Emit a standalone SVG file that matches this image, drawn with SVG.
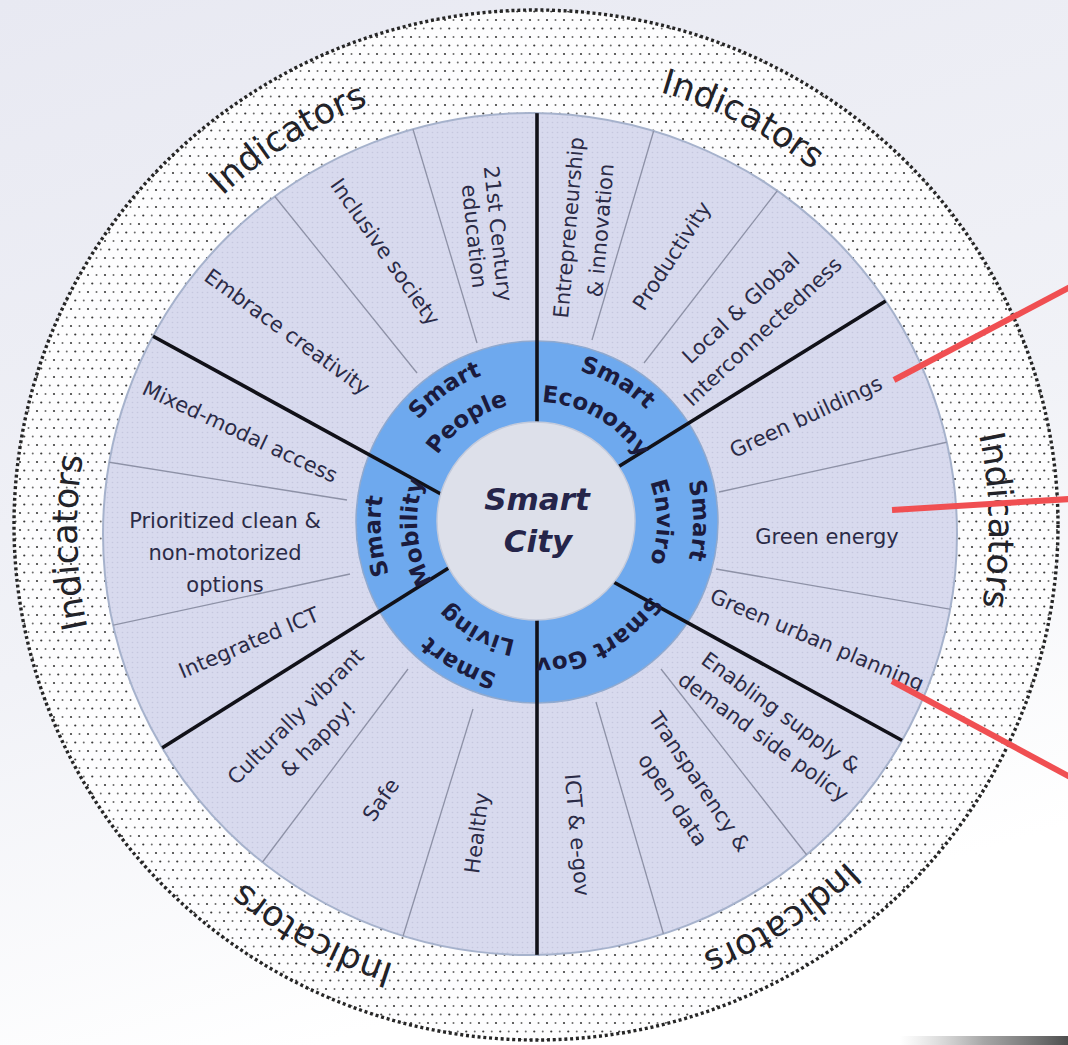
<svg xmlns="http://www.w3.org/2000/svg" width="1068" height="1045" viewBox="0 0 1068 1045">
  <defs>
    <linearGradient id="bg" x1="0" y1="0" x2="0.3" y2="1">
      <stop offset="0" stop-color="#e8e9f2"/>
      <stop offset="0.6" stop-color="#f1f2f7"/>
      <stop offset="1" stop-color="#ffffff"/>
    </linearGradient>
    <linearGradient id="shadow" x1="0" y1="0" x2="1" y2="0">
      <stop offset="0" stop-color="#9a9a9a" stop-opacity="0"/>
      <stop offset="0.5" stop-color="#6a6a6a" stop-opacity="0.6"/>
      <stop offset="1" stop-color="#3a3a3a" stop-opacity="0.9"/>
    </linearGradient>
    <pattern id="dots" width="17" height="17" patternUnits="userSpaceOnUse">
      <rect width="17" height="17" fill="#fdfdfe"/>
      <circle cx="3" cy="3" r="1.1" fill="#3c3c3c"/>
      <circle cx="11.5" cy="3" r="1" fill="#6a6a6a"/>
      <circle cx="7.25" cy="11.5" r="1.1" fill="#3c3c3c"/>
      <circle cx="15.75" cy="11.5" r="1" fill="#6a6a6a"/>
    </pattern>
    <pattern id="fine" width="5" height="5" patternUnits="userSpaceOnUse">
      <rect width="5" height="5" fill="#d8daee"/>
      <circle cx="2.5" cy="2.5" r="0.8" fill="#c5c7df"/>
    </pattern>
    <clipPath id="lav">
      <ellipse cx="530" cy="534" rx="427" ry="421"/>
    </clipPath>
    <path id="ringOuter" d="M395.62,456.07 A156,156 0 1 1 678.38,587.93 A156,156 0 1 1 395.62,456.07"/>
    <path id="ringInner" d="M428.24,471.29 A120,120 0 1 1 645.76,572.71 A120,120 0 1 1 428.24,471.29"/>
    <path id="ringMid" d="M414.65,464.95 A135,135 0 1 1 659.35,579.05 A135,135 0 1 1 414.65,464.95"/>
    <path id="indArc" d="M533,74 A456,456 0 1 1 533,986 A456,456 0 1 1 533,74"/>
    <style>
      .ind { font-family: "DejaVu Sans", "Liberation Sans", sans-serif; font-size: 21px; fill: #2b2b47; text-anchor: middle; }
      .dom { font-family: "DejaVu Sans", "Liberation Sans", sans-serif; font-size: 23px; font-weight: bold; fill: #1b1b3d; text-anchor: middle; }
      .lbl { font-family: "DejaVu Sans", "Liberation Sans", sans-serif; font-size: 35px; fill: #222228; text-anchor: middle; }
      .ctr { font-family: "DejaVu Sans", "Liberation Sans", sans-serif; font-size: 31px; font-weight: bold; font-style: italic; fill: #25254a; text-anchor: middle; }
      .thin { stroke: #8d91a6; stroke-width: 1.3; fill: none; }
      .thick { stroke: #111118; stroke-width: 3.6; fill: none; }
      .red { stroke: #f04f52; stroke-width: 6; fill: none; }
    </style>
  </defs>

  <rect width="1068" height="1045" fill="url(#bg)"/>
  <rect x="900" y="1036" width="168" height="9" fill="url(#shadow)"/>

  <g id="rings">
    <ellipse cx="536" cy="525" rx="522" ry="515" fill="url(#dots)" stroke="#262626" stroke-width="3.4" stroke-dasharray="3 2.8"/>
    <ellipse cx="530" cy="534" rx="427" ry="421" fill="url(#fine)" stroke="#a6b2cc" stroke-width="2"/>
  </g>

  <g id="dividers">
    <g clip-path="url(#lav)">
      <line class="thin" x1="477" y1="343" x2="409" y2="116"/>
      <line class="thin" x1="417" y1="373" x2="268" y2="188"/>
      <line class="thin" x1="592" y1="340" x2="656" y2="123"/>
      <line class="thin" x1="644" y1="363" x2="781" y2="186"/>
      <line class="thin" x1="719" y1="492" x2="957" y2="440"/>
      <line class="thin" x1="716" y1="569" x2="967" y2="612"/>
      <line class="thin" x1="661" y1="669" x2="817" y2="868"/>
      <line class="thin" x1="596" y1="702" x2="667" y2="946"/>
      <line class="thin" x1="473" y1="709" x2="400" y2="946"/>
      <line class="thin" x1="408" y1="669" x2="258" y2="868"/>
      <line class="thin" x1="350" y1="574" x2="100" y2="628"/>
      <line class="thin" x1="347" y1="500" x2="95" y2="460"/>
    </g>
  </g>

  <g id="blue-ring">
    <circle cx="537" cy="522" r="181" fill="#6ea9ee" stroke="#8fa9cf" stroke-width="1.5"/>
  </g>

  <g id="thick-dividers" clip-path="url(#lav)">
    <line class="thick" x1="537" y1="100" x2="537" y2="440"/>
    <line class="thick" x1="537" y1="600" x2="537" y2="970"/>
    <line class="thick" x1="138" y1="328" x2="450" y2="499"/>
    <line class="thick" x1="897" y1="294" x2="605" y2="475"/>
    <line class="thick" x1="914" y1="747" x2="597" y2="573"/>
    <line class="thick" x1="154" y1="753" x2="455" y2="564"/>
  </g>

  <g id="center">
    <circle cx="536" cy="521" r="99" fill="#dde0ea" stroke="#c3cadb" stroke-width="1.5"/>
    <text class="ctr" x="537" y="510">Smart</text>
    <text class="ctr" x="538" y="552">City</text>
  </g>

  <g id="smart-people">
    <text class="dom"><textPath href="#ringOuter" startOffset="8.33%">Smart</textPath></text>
    <text class="dom"><textPath href="#ringInner" startOffset="8.33%">People</textPath></text>
  </g>
  <g id="smart-economy">
    <text class="dom"><textPath href="#ringOuter" startOffset="26.39%">Smart</textPath></text>
    <text class="dom"><textPath href="#ringInner" startOffset="26.39%">Economy</textPath></text>
  </g>
  <g id="smart-enviro">
    <text class="dom"><textPath href="#ringOuter" startOffset="42.9%">Smart</textPath></text>
    <text class="dom"><textPath href="#ringInner" startOffset="43.06%">Enviro</textPath></text>
  </g>
  <g id="smart-gov">
    <text class="dom"><textPath href="#ringMid" startOffset="60.19%">Smart Gov</textPath></text>
  </g>
  <g id="smart-living">
    <text class="dom"><textPath href="#ringOuter" startOffset="76.11%">Smart</textPath></text>
    <text class="dom"><textPath href="#ringInner" startOffset="76.11%">Living</textPath></text>
  </g>
  <g id="smart-mobility">
    <text class="dom"><textPath href="#ringOuter" startOffset="91.67%">Smart</textPath></text>
    <text class="dom"><textPath href="#ringInner" startOffset="91.67%">Mobility</textPath></text>
  </g>

  <g id="ind-21st-century" transform="translate(486,235) rotate(84)">
    <text class="ind" y="-5">21st Century</text>
    <text class="ind" y="19">education</text>
  </g>
  <g id="ind-inclusive" transform="translate(385,252) rotate(55)">
    <text class="ind" y="7">Inclusive society</text>
  </g>
  <g id="ind-creativity" transform="translate(287,332) rotate(36)">
    <text class="ind" y="7">Embrace creativity</text>
  </g>
  <g id="ind-mixed-modal" transform="translate(240,432) rotate(25)">
    <text class="ind" y="7">Mixed-modal access</text>
  </g>
  <g id="ind-prioritized" transform="translate(225,553)">
    <text class="ind" y="-25">Prioritized clean &amp;</text>
    <text class="ind" y="7">non-motorized</text>
    <text class="ind" y="39">options</text>
  </g>
  <g id="ind-integrated-ict" transform="translate(249,643) rotate(-23)">
    <text class="ind" y="7">Integrated ICT</text>
  </g>
  <g id="ind-culturally" transform="translate(307,728) rotate(-45)">
    <text class="ind" y="-9">Culturally vibrant</text>
    <text class="ind" y="23">&amp; happy!</text>
  </g>
  <g id="ind-safe" transform="translate(381,800) rotate(-55)">
    <text class="ind" y="7">Safe</text>
  </g>
  <g id="ind-healthy" transform="translate(477,833) rotate(-83)">
    <text class="ind" y="7">Healthy</text>
  </g>
  <g id="ind-ict-egov" transform="translate(577,835) rotate(85)">
    <text class="ind" y="7">ICT &amp; e-gov</text>
  </g>
  <g id="ind-transparency" transform="translate(686,791) rotate(56)">
    <text class="ind" y="-9">Transparency &amp;</text>
    <text class="ind" y="23">open data</text>
  </g>
  <g id="ind-enabling" transform="translate(772,725) rotate(36)">
    <text class="ind" y="-8">Enabling supply &amp;</text>
    <text class="ind" y="22">demand side policy</text>
  </g>
  <g id="ind-green-urban" transform="translate(817,640) rotate(23)">
    <text class="ind" y="7">Green urban planning</text>
  </g>
  <g id="ind-green-energy" transform="translate(827,537)">
    <text class="ind" y="7">Green energy</text>
  </g>
  <g id="ind-green-buildings" transform="translate(806,417) rotate(-25)">
    <text class="ind" y="7">Green buildings</text>
  </g>
  <g id="ind-local-global" transform="translate(752,320) rotate(-43)">
    <text class="ind" y="-9">Local &amp; Global</text>
    <text class="ind" y="23">Interconnectedness</text>
  </g>
  <g id="ind-productivity" transform="translate(672,256) rotate(-57)">
    <text class="ind" y="7">Productivity</text>
  </g>
  <g id="ind-entrepreneurship" transform="translate(585,229) rotate(-85)">
    <text class="ind" y="-9">Entrepreneurship</text>
    <text class="ind" y="23">&amp; innovation</text>
  </g>

  <g id="indicators-labels">
    <text class="lbl"><textPath href="#indArc" startOffset="7.5%">Indicators</textPath></text>
    <text class="lbl"><textPath href="#indArc" startOffset="24.67%">Indicators</textPath></text>
    <text class="lbl"><textPath href="#indArc" startOffset="40.94%">Indicators</textPath></text>
    <text class="lbl"><textPath href="#indArc" startOffset="57.94%">Indicators</textPath></text>
    <text class="lbl"><textPath href="#indArc" startOffset="74.58%">Indicators</textPath></text>
    <text class="lbl"><textPath href="#indArc" startOffset="91.1%">Indicators</textPath></text>
  </g>

  <g id="connectors">
    <line class="red" x1="894" y1="380" x2="1070" y2="287"/>
    <line class="red" x1="892" y1="510" x2="1070" y2="499"/>
    <line class="red" x1="892" y1="681" x2="1070" y2="777"/>
  </g>
</svg>
